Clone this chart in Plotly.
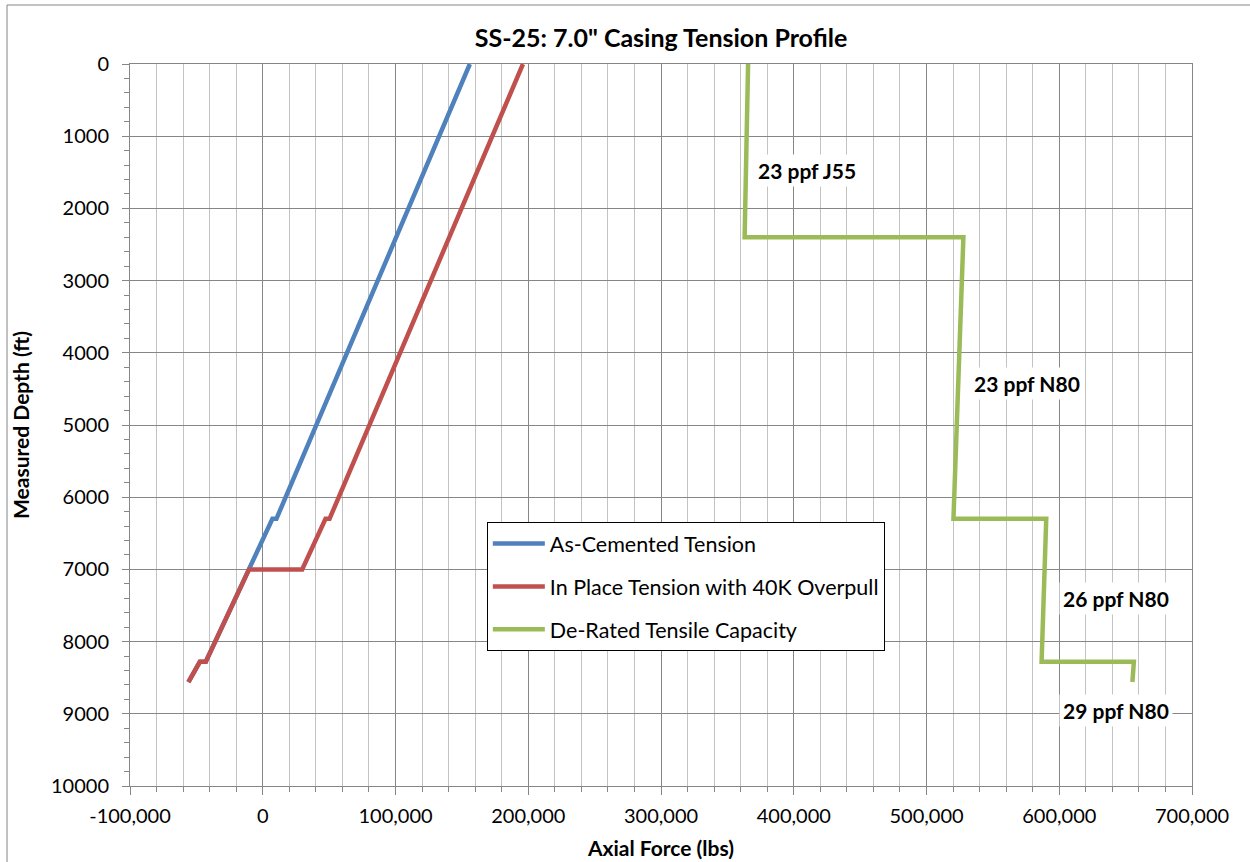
import plotly.graph_objects as go

# Casing tension profile, SS-25 7.0" string
depth_cemented = [0, 6300, 6300, 7000, 8280, 8280, 8560]
as_cemented = [156000, 10300, 7300, -10300, -42900, -47400, -56000]

depth_in_place = [0, 6300, 6300, 7000, 7000, 8280, 8280, 8560]
in_place = [196000, 50300, 47300, 29700, -10300, -42900, -47400, -56000]

depth_capacity = [0, 2400, 2400, 6300, 6300, 8280, 8280, 8560]
capacity = [365600, 363000, 527800, 520300, 590200, 586700, 656200, 655100]

section_labels = ["23 ppf J55", "23 ppf N80", "26 ppf N80", "29 ppf N80"]
section_x = [410000, 576000, 643000, 642500]
section_y = [1480, 4420, 7400, 8960]

x_tick_vals = [-100000, 0, 100000, 200000, 300000, 400000, 500000, 600000, 700000]
x_tick_text = ["-100,000", "0", "100,000", "200,000", "300,000", "400,000",
               "500,000", "600,000", "700,000"]
y_tick_vals = [0, 1000, 2000, 3000, 4000, 5000, 6000, 7000, 8000, 9000, 10000]
y_tick_text = [str(v) for v in y_tick_vals]

FONT = "Lato"
MAJOR = "#868686"
MINOR = "#c3c3c3"

fig = go.Figure()
fig.add_trace(go.Scatter(x=as_cemented, y=depth_cemented, mode="lines",
                         name="As-Cemented Tension", legendgroup="a",
                         line=dict(color="#4F81BD", width=4.5)))
fig.add_trace(go.Scatter(x=in_place, y=depth_in_place, mode="lines",
                         name="In Place Tension with 40K Overpull", legendgroup="b",
                         line=dict(color="#C0504D", width=4.5)))
fig.add_trace(go.Scatter(x=capacity, y=depth_capacity, mode="lines",
                         name="De-Rated Tensile Capacity", legendgroup="c",
                         line=dict(color="#9BBB59", width=4.5)))

for txt, sx, sy in zip(section_labels, section_x, section_y):
    fig.add_annotation(x=sx, y=sy, text=f"<b>{txt}</b>", showarrow=False,
                       bgcolor="white", borderpad=3,
                       font=dict(family=FONT, size=21, color="black"))

# outer chart frame
fig.add_shape(type="rect", xref="paper", yref="paper",
              x0=-0.1158, x1=1.07, y0=-0.12, y1=1.0817,
              line=dict(color=MAJOR, width=1), layer="below")

fig.update_layout(
    width=1250, height=862,
    margin=dict(l=130, r=58, t=64, b=76),
    paper_bgcolor="white", plot_bgcolor="white",
    font=dict(family=FONT, size=20, color="black"),
    title=dict(text="<b>SS-25: 7.0\" Casing Tension Profile</b>",
               x=0.5, xref="paper", xanchor="center",
               y=1 - 38 / 862, yanchor="middle",
               font=dict(family=FONT, size=25, color="black")),
    legend=dict(x=0.336, y=0.3657, xanchor="left", yanchor="top",
                bgcolor="white", bordercolor="black", borderwidth=1,
                itemwidth=52, tracegroupgap=12,
                font=dict(family=FONT, size=21.5, color="black")),
    showlegend=True,
)

fig.update_xaxes(
    range=[-100000, 700000], tickvals=x_tick_vals, ticktext=x_tick_text,
    automargin=False,
    showline=True, linecolor=MAJOR, linewidth=1, mirror=True,
    showgrid=True, gridcolor=MAJOR, gridwidth=1, zeroline=False,
    ticks="outside", ticklen=8, tickcolor=MAJOR, ticklabelstandoff=4,
    tickfont=dict(family=FONT, size=20),
    minor=dict(dtick=20000, showgrid=True, gridcolor=MINOR, gridwidth=1,
               ticks="outside", ticklen=5, tickcolor=MAJOR),
    title=dict(text="<b>Axial Force (lbs)</b>",
               font=dict(family=FONT, size=21)),
)
fig.update_yaxes(
    range=[10000, 0], tickvals=y_tick_vals, ticktext=y_tick_text,
    automargin=False,
    showline=True, linecolor=MAJOR, linewidth=1, mirror=True,
    showgrid=True, gridcolor=MAJOR, gridwidth=1, zeroline=False,
    ticks="outside", ticklen=7, tickcolor=MAJOR, ticklabelstandoff=9,
    tickfont=dict(family=FONT, size=20),
    minor=dict(dtick=200, showgrid=False, ticks="outside", ticklen=5, tickcolor=MAJOR),
    title=dict(text="<b>Measured Depth (ft)</b>",
               font=dict(family=FONT, size=21)),
)

fig.write_html("out.html")
